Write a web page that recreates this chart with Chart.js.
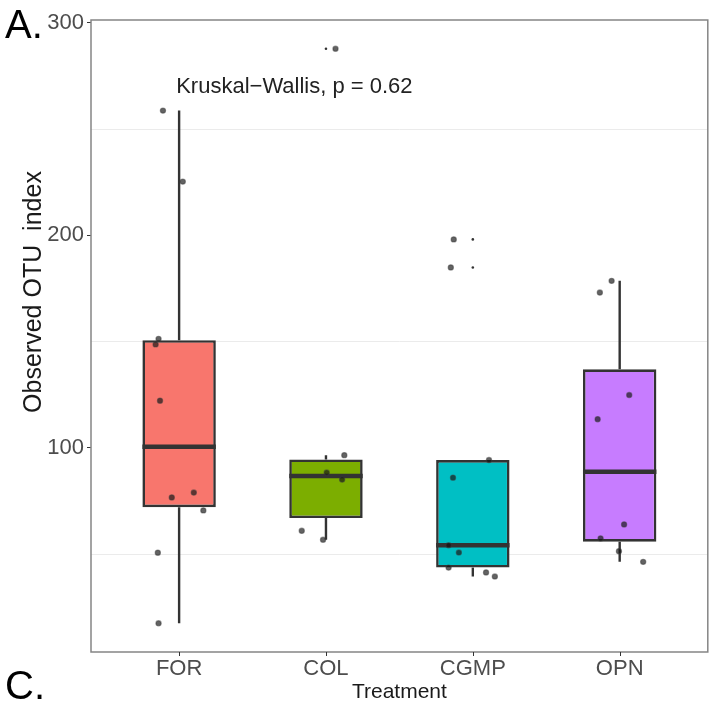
<!DOCTYPE html>
<html>
<head>
<meta charset="utf-8">
<script src="https://cdn.jsdelivr.net/npm/chart.js@4.4.1/dist/chart.umd.min.js"></script>
<style>
  html, body { margin: 0; padding: 0; background: #ffffff; }
  #wrap { width: 713px; height: 705px; position: relative; }
</style>
</head>
<body>
<div id="wrap"><canvas id="chart" width="713" height="705"></canvas></div>
<script>
// Treatment groups shown along the x axis
const categories = ['FOR', 'COL', 'CGMP', 'OPN'];
const boxColors = ['#F8766D', '#7CAE00', '#00BFC4', '#C77CFF'];

// Observed OTU index per sample, one array per treatment
const forValues  = [258.7, 225.3, 151.3, 148.7, 122.2, 76.7, 79.0, 70.6, 50.7, 17.5];
const colValues  = [287.8, 96.6, 88.4, 85.1, 61.0, 56.8];
const cgmpValues = [198.1, 184.9, 94.3, 86.0, 54.2, 50.8, 43.7, 41.4, 39.5];
const opnValues  = [178.6, 173.1, 124.9, 113.5, 64.0, 57.4, 51.4, 46.4];

// Horizontal jitter of each sample point (in category units)
const forJitter  = [-0.11, 0.025, -0.14, -0.16, -0.13, -0.05, 0.10, 0.165, -0.145, -0.14];
const colJitter  = [0.065, 0.125, 0.005, 0.11, -0.165, -0.02];
const cgmpJitter = [-0.13, -0.15, 0.11, -0.135, -0.165, -0.095, -0.165, 0.09, 0.15];
const opnJitter  = [-0.055, -0.135, 0.065, -0.15, 0.03, -0.13, -0.005, 0.16];

// y-axis labelled ticks and light guide lines
const yTickLabels = [100, 200, 300];
const yGuideLines = [50, 150, 250];

const testLabel = 'Kruskal\u2212Wallis, p = 0.62';

const groups = [forValues, colValues, cgmpValues, opnValues];
const jitters = [forJitter, colJitter, cgmpJitter, opnJitter];

// Quantile (linear interpolation between order statistics)
function quantile(sorted, p) {
  const h = (sorted.length - 1) * p;
  const lo = Math.floor(h), hi = Math.ceil(h);
  return sorted[lo] + (h - lo) * (sorted[hi] - sorted[lo]);
}

// Five-number summary with 1.5 IQR whiskers
const stats = groups.map(vals => {
  const s = [...vals].sort((a, b) => a - b);
  const q1 = quantile(s, 0.25), med = quantile(s, 0.5), q3 = quantile(s, 0.75);
  const iqr = q3 - q1;
  const inside = s.filter(v => v >= q1 - 1.5 * iqr && v <= q3 + 1.5 * iqr);
  const outliers = s.filter(v => v < q1 - 1.5 * iqr || v > q3 + 1.5 * iqr);
  return { q1, med, q3, lo: inside[0], hi: inside[inside.length - 1], outliers };
});

// Axis range padded by 5% of the data span
const allValues = groups.flat();
const dMin = Math.min(...allValues), dMax = Math.max(...allValues);
const pad = (dMax - dMin) * 0.05;

const boxData = stats.map((st, i) => ({ x: i + 1, y: [st.q1, st.q3] }));
const pointData = [];
groups.forEach((vals, i) => vals.forEach((v, j) => pointData.push({ x: i + 1 + jitters[i][j], y: v })));
const outlierData = [];
stats.forEach((st, i) => st.outliers.forEach(v => outlierData.push({ x: i + 1, y: v })));

const FONT = "'Liberation Sans', Arial, Helvetica, sans-serif";
const INK = '#333333';

const boxplotParts = {
  id: 'boxplotParts',
  beforeDatasetsDraw(chart) {
    const { ctx, scales: { x, y } } = chart;
    ctx.save();
    ctx.strokeStyle = INK;
    ctx.lineWidth = 2.4;
    stats.forEach((st, i) => {
      const px = x.getPixelForValue(i + 1);
      ctx.beginPath();
      ctx.moveTo(px, y.getPixelForValue(st.hi));
      ctx.lineTo(px, y.getPixelForValue(st.q3));
      ctx.moveTo(px, y.getPixelForValue(st.q1));
      ctx.lineTo(px, y.getPixelForValue(st.lo));
      ctx.stroke();
    });
    ctx.restore();
  },
  afterDatasetDraw(chart, args) {
    if (args.index !== 0) return;
    const { ctx, scales: { y } } = chart;
    const meta = chart.getDatasetMeta(0);
    ctx.save();
    ctx.strokeStyle = INK;
    ctx.lineWidth = 4.5;
    stats.forEach((st, i) => {
      const bar = meta.data[i];
      const py = y.getPixelForValue(st.med);
      ctx.beginPath();
      ctx.moveTo(bar.x - bar.width / 2, py);
      ctx.lineTo(bar.x + bar.width / 2, py);
      ctx.stroke();
    });
    ctx.restore();
  },
  afterDatasetsDraw(chart) {
    const { ctx, chartArea: a, scales: { x, y } } = chart;
    ctx.save();
    // panel frame
    ctx.strokeStyle = '#858585';
    ctx.lineWidth = 1.5;
    ctx.strokeRect(a.left, a.top, a.right - a.left, a.bottom - a.top);
    // category tick marks below the frame
    ctx.strokeStyle = INK;
    ctx.lineWidth = 1;
    categories.forEach((c, i) => {
      const px = Math.round(x.getPixelForValue(i + 1)) + 0.5;
      ctx.beginPath();
      ctx.moveTo(px, a.bottom);
      ctx.lineTo(px, a.bottom + 4);
      ctx.stroke();
    });
    // test annotation
    ctx.fillStyle = '#222222';
    ctx.font = '22px ' + FONT;
    ctx.textAlign = 'left';
    ctx.textBaseline = 'middle';
    ctx.fillText(testLabel, x.getPixelForValue(0.98), y.getPixelForValue(270));
    ctx.restore();
  },
  afterDraw(chart) {
    const { ctx } = chart;
    ctx.save();
    ctx.fillStyle = '#000000';
    ctx.font = '40px ' + FONT;
    ctx.textAlign = 'left';
    ctx.textBaseline = 'alphabetic';
    ctx.fillText('A.', 5, 38);
    ctx.fillText('C.', 5, 699);
    // y-axis title
    ctx.fillStyle = '#1a1a1a';
    ctx.font = '25px ' + FONT;
    ctx.translate(34, 292);
    ctx.rotate(-Math.PI / 2);
    ctx.textAlign = 'center';
    ctx.textBaseline = 'middle';
    ctx.fillText('Observed OTU  index', 0, 0);
    ctx.restore();
  }
};

new Chart(document.getElementById('chart'), {
  type: 'bar',
  data: {
    datasets: [
      {
        type: 'bar',
        data: boxData,
        backgroundColor: boxColors,
        borderColor: INK,
        borderWidth: 2.6,
        borderSkipped: false,
        categoryPercentage: 1,
        barPercentage: 0.5,
        order: 2
      },
      {
        type: 'scatter',
        data: outlierData,
        pointRadius: 1.3,
        pointBackgroundColor: INK,
        pointBorderWidth: 0,
        order: 1
      },
      {
        type: 'scatter',
        data: pointData,
        pointRadius: 2.6,
        pointBackgroundColor: 'rgba(15,15,15,0.65)',
        pointBorderColor: 'rgba(60,60,60,0.5)',
        pointBorderWidth: 1.2,
        order: 0
      }
    ]
  },
  options: {
    responsive: false,
    animation: false,
    layout: { padding: { left: 0, right: 5, top: 20, bottom: 0 } },
    plugins: { legend: { display: false }, tooltip: { enabled: false } },
    scales: {
      x: {
        type: 'linear',
        min: 0.4,
        max: 4.6,
        offset: false,
        afterBuildTicks: s => { s.ticks = categories.map((c, i) => ({ value: i + 1 })); },
        afterFit: s => { s.height = 53; },
        border: { display: false },
        grid: { offset: false, drawOnChartArea: false, drawTicks: true, tickLength: 4, color: 'rgba(0,0,0,0)' },
        ticks: {
          padding: 0,
          autoSkip: false,
          maxRotation: 0,
          color: '#4D4D4D',
          font: { family: FONT, size: 22 },
          callback: v => categories[Math.round(v) - 1]
        },
        title: {
          display: true,
          text: 'Treatment',
          color: '#1a1a1a',
          font: { family: FONT, size: 21 },
          padding: { top: 0, bottom: 0 }
        }
      },
      y: {
        type: 'linear',
        min: dMin - pad,
        max: dMax + pad,
        afterBuildTicks: s => {
          s.ticks = [...yGuideLines, ...yTickLabels].sort((a, b) => a - b).map(v => ({ value: v }));
        },
        afterFit: s => { s.width = 91; },
        border: { display: false },
        grid: {
          drawTicks: true,
          tickLength: 4,
          lineWidth: 1,
          color: c => yGuideLines.includes(c.tick && c.tick.value) ? '#EBEBEB' : 'rgba(0,0,0,0)',
          tickColor: c => yTickLabels.includes(c.tick && c.tick.value) ? INK : 'rgba(0,0,0,0)'
        },
        ticks: {
          padding: 3,
          color: '#4D4D4D',
          font: { family: FONT, size: 22 },
          callback: v => yTickLabels.includes(v) ? String(v) : ''
        }
      }
    }
  },
  plugins: [boxplotParts]
});
</script>
</body>
</html>
